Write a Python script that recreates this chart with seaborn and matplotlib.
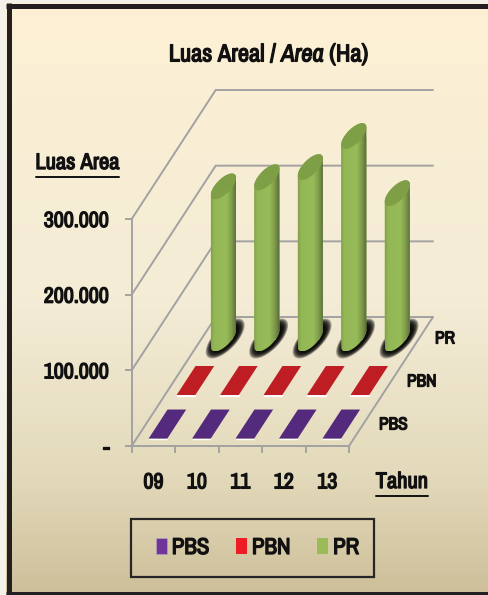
import numpy as np
import pandas as pd
import matplotlib
matplotlib.use("Agg")
import matplotlib.pyplot as plt
import matplotlib.patheffects as pe
from matplotlib import font_manager as fm
from matplotlib.colors import LinearSegmentedColormap
from matplotlib.patches import Patch, Polygon, Rectangle
from matplotlib.path import Path
from matplotlib.transforms import Affine2D
import seaborn as sns

# ---- data -------------------------------------------------------------
years = ["09", "10", "11", "12", "13"]
series_names = ["PBS", "PBN", "PR"]
pbs_values = [600, 600, 600, 600, 600]
pbn_values = [1300, 1300, 1300, 1300, 1300]
pr_values = [201000, 213000, 226500, 267500, 192000]
y_ticks = [0, 100000, 200000, 300000]
y_tick_labels = ["-", "100.000", "200.000", "300.000"]

sns.set_theme(style="white")
installed = {f.name for f in fm.fontManager.ttflist}
FONT = "Archivo Narrow" if "Archivo Narrow" in installed else "Liberation Sans"
plt.rcParams["font.family"] = [FONT, "Liberation Sans", "DejaVu Sans"]
plt.rcParams["mathtext.fontset"] = "custom"
plt.rcParams["mathtext.it"] = f"{FONT}:italic"
plt.rcParams["mathtext.rm"] = FONT

W, H = 488, 595
INK = "#111111"
GRID = "#A2A2A2"
BOLD = [pe.withStroke(linewidth=0.95, foreground=INK)]
colors = {"PBS": "#532A7C", "PBN": "#BE1E23", "PR": "#93B755"}
legend_colors = {"PBS": "#6F3598", "PBN": "#EE1C25", "PR": "#9BBB59"}

fig = plt.figure(figsize=(W / 100, H / 100), dpi=100)

# ---- page background ---------------------------------------------------
bg = fig.add_axes([0, 0, 1, 1], zorder=0)
bg.axis("off")
cmap = LinearSegmentedColormap.from_list(
    "page", [(0, "#FDF0D4"), (0.5, "#F4ECD6"), (0.8, "#E3DABB"), (1, "#CEBF9A")])
bg.imshow(np.linspace(0, 1, 300)[:, None], cmap=cmap, aspect="auto",
          extent=(0, W, H, 0), zorder=0)
bg.set_xlim(0, W)
bg.set_ylim(H, 0)
bg.add_patch(Rectangle((0, 0), 6.0, H, fc="#F3F1E9", ec="none", zorder=0.5))
bg.add_patch(Rectangle((0, 0), W, 3.2, fc="#F3F1E9", ec="none", zorder=0.5))
FRAME = "#231F20"
bg.plot([8.5, 8.5], [3.2, H], color=FRAME, lw=3.6, zorder=1, solid_capstyle="butt")
bg.plot([6, W], [5.7, 5.7], color=FRAME, lw=3.6, zorder=1, solid_capstyle="butt")
bg.plot([6, W], [594, 594], color=FRAME, lw=3.6, zorder=1, solid_capstyle="butt")
bg.add_patch(Rectangle((130.5, 518.5), 243.5, 58.5, fill=False, ec="#262626", lw=1.6, zorder=2))

# ---- chart axes: the front plane of the oblique box --------------------
ax = fig.add_axes([131.7 / W, (H - 446) / H, (349 - 131.7) / W, (446 - 219) / H], zorder=2)
ax.patch.set_visible(False)

df = pd.DataFrame({
    "year": years * 3,
    "series": np.repeat(series_names, 5),
    "value": pbs_values + pbn_values + pr_values,
})
sns.barplot(data=df, x="year", y="value", hue="series", hue_order=series_names,
            palette=colors, saturation=1, legend=False, ax=ax, errorbar=None)

ax.set_xlim(-0.5, 4.5)
ax.set_ylim(0, 300000)
ax.set_xlabel("")
ax.set_ylabel("")

# oblique depth vector, in data units per full depth of the floor
DX = 84 / 43.46
DY = 129 / 75.67 * 100000
def shear(x, d, v):
    return np.asarray(x) + DX * np.asarray(d), np.asarray(v) + DY * np.asarray(d)

depths = {"PBS": 1 / 6, "PBN": 0.5, "PR": 5 / 6}
x_left, x_right = -0.5, 4.5

# grid: left wall, back wall, floor
for v in y_ticks:
    xs, ys = shear([x_left, x_left, x_right], [0, 1, 1], [v, v, v])
    ax.plot(xs, ys, color=GRID, lw=1.4, clip_on=False, zorder=1, solid_joinstyle="miter")
xs, ys = shear([x_right, x_right], [0, 1], [0, 0])
ax.plot(xs, ys, color=GRID, lw=1.4, clip_on=False, zorder=1)

# axes
sns.despine(ax=ax)
for side in ("left", "bottom"):
    ax.spines[side].set_color(GRID)
    ax.spines[side].set_linewidth(1.4)
ax.set_yticks(y_ticks, y_tick_labels)
ax.set_xticks(np.arange(-0.5, 5), [""] * 6)
ax.set_xticks(range(5), years, minor=True)
ax.tick_params(axis="y", which="major", left=True, length=5, width=1.4, color=GRID,
               pad=11.5, labelsize=15.8, labelcolor=INK)
ax.tick_params(axis="x", which="major", bottom=True, length=5, width=1.4, color=GRID)
ax.tick_params(axis="x", which="minor", bottom=False, length=0, pad=19, labelsize=15.8,
               labelcolor=INK)
for label in ax.get_yticklabels() + ax.get_xticklabels(minor=True):
    label.set_path_effects(BOLD)

# turn the seaborn bars into the oblique marks
BAR_W = 0.43
BAR_D = 0.225
A, B = 0.215, 0.10      # half sizes of the cylinder section
T_MAX = np.arctan2(DX * B, A)

def section(i, d, v, t, scale=1.0, dx=0.0):
    return shear(i + dx + scale * A * np.cos(t), d + scale * B * np.sin(t), v + 0 * t)

fig_box = fig.bbox
shade = LinearSegmentedColormap.from_list(
    "cyl", [(0, "#84A24B"), (0.12, "#93B755"), (0.6, "#97BB58"), (0.8, "#7F9C4A"), (1, "#56693A")])

for name, container in zip(series_names, ax.containers):
    d0 = depths[name]
    for i, rect in enumerate(container):
        v = rect.get_height()
        if name == "PR":
            rect.set_x(i - 0.35)
            rect.set_width(0.7)
            rect.set_transform(Affine2D().translate(DX * d0, DY * d0) + ax.transData)
            # blurred ground shadow
            tt = np.linspace(0, 2 * np.pi, 80)
            for s in np.linspace(1.55, 1.05, 9):
                xh, yh = section(i, d0, 0, tt, scale=s, dx=0.04)
                ax.add_patch(Polygon(np.c_[xh, yh], fc="black", ec="none", alpha=0.27,
                                     clip_on=False, zorder=2))
            # cylinder outline
            lower = np.linspace(T_MAX + np.pi, T_MAX + 2 * np.pi, 40)
            upper = np.linspace(T_MAX, T_MAX + np.pi, 40)
            xl, yl = section(i, d0, 0, lower)
            xu, yu = section(i, d0, v, upper)
            body = Path(np.c_[np.r_[xl, xu], np.r_[yl, yu]])
            rect.set_zorder(3)
            rect.set_clip_path(body, ax.transData)
            rect.set_clip_box(fig_box)
            # shading across the cylinder
            im = ax.imshow(np.linspace(0, 1, 60)[None, :], cmap=shade, aspect="auto",
                           extent=(xl.min(), xl.max(), yl.min(), yu.max()), zorder=4)
            im.set_clip_path(body, ax.transData)
            im.set_clip_box(fig_box)
            # top of the cylinder
            xt, yt = section(i, d0, v, tt)
            ax.add_patch(Polygon(np.c_[xt, yt], fc="#7F9F47", ec="none", clip_on=False, zorder=5))
        else:
            front = d0 - BAR_D / 2
            rect.set_x(i - BAR_W / 2)
            rect.set_width(BAR_W)
            rect.set_transform(Affine2D().translate(DX * front, DY * front) + ax.transData)
            rect.set_clip_on(False)
            rect.set_zorder(3)
            if name == "PBN":
                rect.set_facecolor("#F0282A")
            xp, yp = shear([i - BAR_W / 2, i + BAR_W / 2, i + BAR_W / 2, i - BAR_W / 2],
                           [front, front, front + BAR_D, front + BAR_D], [v] * 4)
            ax.add_patch(Polygon(np.c_[xp, yp], fc=colors[name], ec="none", clip_on=False, zorder=4))

ax.set_xlim(-0.5, 4.5)
ax.set_ylim(0, 300000)

# depth-axis labels
for name in series_names:
    xs, ys = shear(x_right, depths[name], 0)
    ax.annotate(name, (xs, ys), xytext=(11.5, 0), textcoords="offset points", va="center",
                ha="left", fontsize=12.6, color=INK, annotation_clip=False, zorder=6,
                path_effects=BOLD)

# ---- titles and axis names (page pixel coordinates) ---------------------
bg.text(269, 55, r"Luas Areal / $\mathit{Area}$ (Ha)", ha="center", va="center",
        fontsize=17.6, color=INK, zorder=3, path_effects=BOLD)
bg.text(77.5, 163, "Luas Area", ha="center", va="center", fontsize=16.2, color=INK, zorder=3,
        path_effects=BOLD)
bg.plot([36, 119], [176.5, 176.5], color=INK, lw=1.4, zorder=3)
bg.text(402, 482, "Tahun", ha="center", va="center", fontsize=16.2, color=INK, zorder=3,
        path_effects=BOLD)
bg.plot([376, 428], [495.5, 495.5], color=INK, lw=1.4, zorder=3)

# ---- legend -------------------------------------------------------------
handles = [Patch(fc=legend_colors[n], ec="#B9A7C9" if n == "PBS" else "none", lw=0.4, label=n)
           for n in series_names]
leg = fig.legend(handles=handles, ncol=3, frameon=False, loc="center",
                 bbox_to_anchor=(257.5 / W, (H - 548) / H), fontsize=16.5,
                 handlelength=0.48, handleheight=0.66, handletextpad=0.22, columnspacing=1.15,
                 labelcolor=INK)
for t in leg.get_texts():
    t.set_path_effects(BOLD)

fig.savefig("out.png", dpi=100)
